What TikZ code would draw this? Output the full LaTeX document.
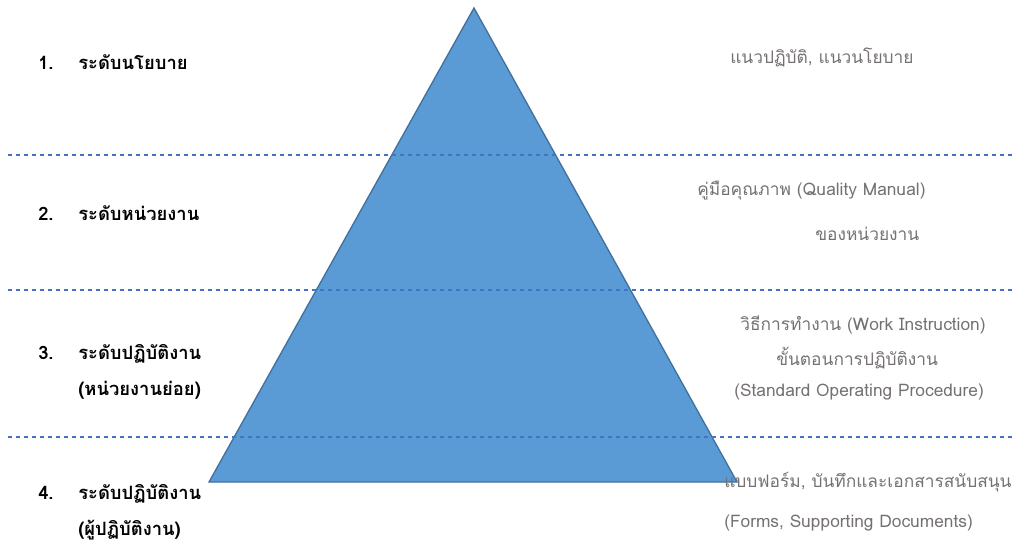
\documentclass[tikz,border=0pt]{standalone}
\usepackage{fontspec}
\newfontfamily\thai[Script=Thai]{Loma}
\definecolor{trifill}{HTML}{5B9BD5}
\definecolor{triedge}{HTML}{41719C}
\definecolor{dashc}{HTML}{4472C4}
\definecolor{graytext}{HTML}{767171}
\tikzset{
  levelline/.style={draw=dashc, dashed, line width=0.8pt},
  leftlabel/.style={anchor=base west, inner sep=0pt, font=\thai\bfseries\fontsize{13.8}{16}\selectfont, text=black},
  rightlabel/.style={anchor=base west, inner sep=0pt, font=\thai\fontsize{13}{16}\selectfont, text=graytext}
}
\begin{document}
\begin{tikzpicture}[x=0.75pt,y=-0.75pt]
\useasboundingbox (0,0) rectangle (1016,545);
% triangle
\coordinate (apex) at (474,8);
\coordinate (bl) at (209,482);
\coordinate (br) at (737,482);
\fill[trifill, draw=triedge, line width=1pt, line join=miter] (apex) -- (br) -- (bl) -- cycle;
% dashed level lines
\coordinate (l1a) at (8,155); \coordinate (l1b) at (1016,155);
\coordinate (l2a) at (8,290); \coordinate (l2b) at (1016,290);
\coordinate (l3a) at (8,437); \coordinate (l3b) at (1016,437);
\draw[levelline] (l1a) -- (l1b);
\draw[levelline] (l2a) -- (l2b);
\draw[levelline] (l3a) -- (l3b);
% left labels
\node[leftlabel] (n1) at (38,70) {1.};
\node[leftlabel] (t1) at (78,70) {ระดับนโยบาย};
\node[leftlabel] (n2) at (38,221) {2.};
\node[leftlabel] (t2) at (78,221) {ระดับหน่วยงาน};
\node[leftlabel] (n3) at (38,359) {3.};
\node[leftlabel] (t3) at (78,359) {ระดับปฏิบัติงาน};
\node[leftlabel] (t3b) at (78,395) {(หน่วยงานย่อย)};
\node[leftlabel] (n4) at (38,499) {4.};
\node[leftlabel] (t4) at (78,499) {ระดับปฏิบัติงาน};
\node[leftlabel] (t4b) at (78,535) {(ผู้ปฏิบัติงาน)};
% right labels
\node[rightlabel] (r1) at (730,64) {แนวปฏิบัติ, แนวนโยบาย};
\node[rightlabel] (r2) at (697,196) {คู่มือคุณภาพ (Quality Manual)};
\node[rightlabel] (r2b) at (815,240) {ของหน่วยงาน};
\node[rightlabel] (r3) at (740,330) {วิธีการทำงาน (Work Instruction)};
\node[rightlabel] (r3b) at (776,365) {ขั้นตอนการปฏิบัติงาน};
\node[rightlabel] (r3c) at (734,396) {(Standard Operating Procedure)};
\node[rightlabel] (r4) at (724,487) {แบบฟอร์ม, บันทึกและเอกสารสนับสนุน};
\node[rightlabel] (r4b) at (724,527) {(Forms, Supporting Documents)};
\end{tikzpicture}
\end{document}
